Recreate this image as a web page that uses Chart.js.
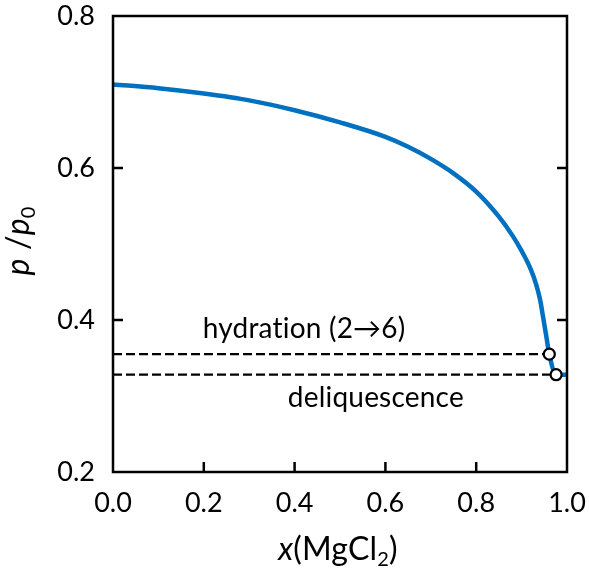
<!DOCTYPE html>
<html>
<head>
<meta charset="utf-8">
<script src="https://cdn.jsdelivr.net/npm/chart.js@4.4.1/dist/chart.umd.min.js"></script>
<style>
html,body{margin:0;padding:0;background:#fff;}
#wrap{width:589px;height:569px;}
</style>
</head>
<body>
<div id="wrap"><canvas id="c" width="589" height="569"></canvas></div>
<script>
// ---- data ----
const curveX = [0, 0.1, 0.2, 0.3, 0.4, 0.5, 0.6, 0.65, 0.7, 0.75, 0.8, 0.85, 0.88, 0.9, 0.92, 0.932, 0.941, 0.947, 0.954, 0.961, 0.976, 1.0];
const curveY = [0.710, 0.705, 0.698, 0.689, 0.676, 0.660, 0.641, 0.628, 0.612, 0.593, 0.569, 0.536, 0.511, 0.491, 0.467, 0.447, 0.426, 0.405, 0.380, 0.355, 0.328, 0.328];
const markerX = [0.961, 0.976];
const markerY = [0.355, 0.328];
const annoLabels = ["hydration (2\u21926)", "deliquescence"];
const annoX = [0.421, 0.579];
const annoY = [0.388, 0.297];
const xTicks = [0.0, 0.2, 0.4, 0.6, 0.8, 1.0];
const yTicks = [0.2, 0.4, 0.6, 0.8];

const FONT = "Lato, 'Open Sans', sans-serif";

const curvePts = curveX.map((x, i) => ({x, y: curveY[i]}));
const markerPts = markerX.map((x, i) => ({x, y: markerY[i]}));
const dashSets = markerX.map((x, i) => ({
  type: 'line',
  data: [{x: 0, y: markerY[i]}, {x: x, y: markerY[i]}],
  borderColor: '#000', borderWidth: 2.2, borderDash: [9, 4],
  pointRadius: 0, fill: false, order: 3
}));

function drawParts(ctx, parts, cx, baseY) {
  ctx.textAlign = 'left';
  ctx.textBaseline = 'alphabetic';
  let w = 0;
  parts.forEach(p => { ctx.font = p.f; p.w = ctx.measureText(p.t).width; w += p.w; });
  let x = cx - w / 2;
  parts.forEach(p => { ctx.font = p.f; ctx.fillText(p.t, x, baseY + p.dy); x += p.w; });
}

const framePlugin = {
  id: 'frame',
  afterDraw(chart) {
    const ctx = chart.ctx, a = chart.chartArea;
    const xs = chart.scales.x, ys = chart.scales.y;
    ctx.save();
    ctx.strokeStyle = '#000';
    ctx.lineWidth = 2.5;
    ctx.strokeRect(a.left, a.top, a.right - a.left, a.bottom - a.top);
    const tl = 10;
    xTicks.forEach(v => {
      const px = xs.getPixelForValue(v);
      if (px <= a.left + 1 || px >= a.right - 1) return;
      ctx.beginPath(); ctx.moveTo(px, a.bottom); ctx.lineTo(px, a.bottom - tl); ctx.stroke();
    });
    yTicks.forEach(v => {
      const py = ys.getPixelForValue(v);
      if (py <= a.top + 1 || py >= a.bottom - 1) return;
      ctx.beginPath(); ctx.moveTo(a.left, py); ctx.lineTo(a.left + tl, py);
      ctx.moveTo(a.right, py); ctx.lineTo(a.right - tl, py); ctx.stroke();
    });
    // annotations
    ctx.fillStyle = '#000';
    try { ctx.letterSpacing = '0.2px'; } catch (e) {}
    ctx.font = "28px " + FONT;
    ctx.textAlign = 'center';
    ctx.textBaseline = 'middle';
    annoLabels.forEach((t, i) => {
      ctx.fillText(t, xs.getPixelForValue(annoX[i]), ys.getPixelForValue(annoY[i]));
    });
    // x title
    const parts = [
      {t: 'x', f: "italic 32px " + FONT, dy: 0},
      {t: '(MgCl', f: "32px " + FONT, dy: 0},
      {t: '2', f: "20px " + FONT, dy: 6},
      {t: ')', f: "32px " + FONT, dy: 0}
    ];
    drawParts(ctx, parts, 338, 560);
    // y title
    ctx.save();
    ctx.translate(29, 241);
    ctx.rotate(-Math.PI / 2);
    const yparts = [
      {t: 'p', f: "italic 32px " + FONT, dy: 0},
      {t: ' /', f: "32px " + FONT, dy: 0},
      {t: 'p', f: "italic 32px " + FONT, dy: 0},
      {t: '0', f: "20px " + FONT, dy: 6}
    ];
    drawParts(ctx, yparts, 0, 0);
    ctx.restore();
    ctx.restore();
  }
};

new Chart(document.getElementById('c'), {
  type: 'line',
  data: {
    datasets: [
      {
        type: 'scatter',
        data: markerPts,
        pointRadius: 5.5, pointHoverRadius: 5.5,
        pointBackgroundColor: '#fff', pointBorderColor: '#000', pointBorderWidth: 2.2,
        showLine: false, order: 1
      },
      {
        type: 'line',
        data: curvePts,
        borderColor: '#0070C0', borderWidth: 4.5,
        pointRadius: 0, cubicInterpolationMode: 'monotone',
        fill: false, order: 2
      },
      ...dashSets
    ]
  },
  options: {
    responsive: false,
    animation: false,
    events: [],
    layout: {padding: {left: 0, right: 22, top: 16, bottom: 0}},
    plugins: {legend: {display: false}, tooltip: {enabled: false}},
    scales: {
      x: {
        type: 'linear', min: 0, max: 1,
        afterFit: s => { s.height = 97; s.paddingLeft = 0; s.paddingRight = 0; },
        afterBuildTicks: s => { s.ticks = xTicks.map(v => ({value: v})); },
        grid: {display: false, drawTicks: false},
        border: {display: false},
        ticks: {
          padding: 15,
          maxRotation: 0,
          color: '#000',
          font: {family: FONT, size: 27},
          callback: v => Number(v).toFixed(1)
        }
      },
      y: {
        type: 'linear', min: 0.2, max: 0.8,
        afterFit: s => { s.width = 113; s.paddingTop = 0; s.paddingBottom = 0; },
        afterBuildTicks: s => { s.ticks = yTicks.map(v => ({value: v})); },
        grid: {display: false, drawTicks: false},
        border: {display: false},
        ticks: {
          padding: 18,
          color: '#000',
          font: {family: FONT, size: 27},
          callback: v => Number(v).toFixed(1)
        }
      }
    }
  },
  plugins: [framePlugin]
});
</script>
</body>
</html>
